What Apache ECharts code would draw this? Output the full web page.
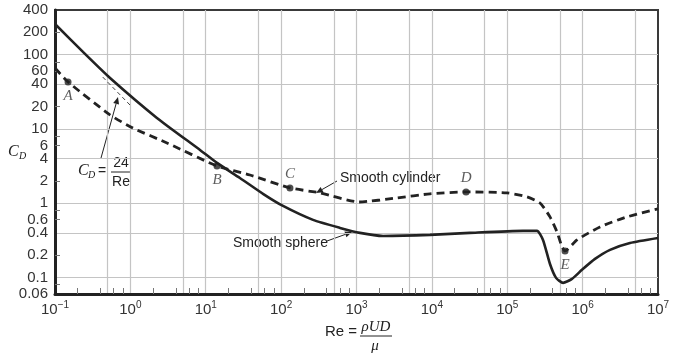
<!DOCTYPE html>
<html><head><meta charset="utf-8">
<script src="https://cdn.jsdelivr.net/npm/echarts@6/dist/echarts.min.js"></script>
<style>html,body{margin:0;padding:0;background:#fff}#c{width:677px;height:356px}</style>
</head><body><div id="c"></div>
<script>
// ---- data ----
const sphereRe = [0.1, 0.235, 0.537, 2.25, 8.4, 14.1, 28.4, 57.5, 106, 265, 604, 1112, 2250, 9440, 32000, 162000, 248000, 298000, 369000, 444000, 550000, 723000, 980000, 1.46e6, 2.31e6, 4.25e6, 1e7];
const sphereCd = [259, 109, 48.6, 14.1, 5.22, 3.49, 2.19, 1.34, 0.92, 0.597, 0.466, 0.399, 0.363, 0.375, 0.399, 0.425, 0.425, 0.321, 0.152, 0.0989, 0.0847, 0.096, 0.127, 0.178, 0.236, 0.292, 0.341];
const cylRe = [0.1, 0.149, 0.537, 1.08, 3.06, 14.1, 38.6, 131, 328, 1080, 3440, 9440, 28400, 99300, 183000, 272000, 369000, 457000, 533000, 584000, 842000, 1.7e6, 3.88e6, 1e7];
const cylCd = [66.2, 43.0, 15.5, 10.3, 6.49, 3.18, 2.40, 1.61, 1.38, 1.04, 1.18, 1.34, 1.42, 1.38, 1.22, 1.01, 0.655, 0.411, 0.258, 0.228, 0.321, 0.48, 0.655, 0.84];
const stokesRe = [0.43, 0.99];
const stokesCd = [50, 21];
const pointNames = ['A', 'B', 'C', 'D', 'E'];
const pointRe = [0.149, 14.1, 131, 28400, 584000];
const pointCd = [43.0, 3.18, 1.61, 1.42, 0.228];
const pointLabelPos = ['bottom', 'bottom', 'top', 'top', 'bottom'];
const xLabelVals = [0.1, 1, 10, 100, 1e3, 1e4, 1e5, 1e6, 1e7];
const xGridVals = [0.5, 1, 5, 10, 50, 100, 500, 1e3, 5e3, 1e4, 5e4, 1e5, 5e5, 1e6, 5e6];
const xMinorVals = [0.2, 0.4, 0.6, 0.8, 2, 4, 6, 8, 20, 40, 60, 80, 200, 400, 600, 800, 2000, 4000, 6000, 8000, 2e4, 4e4, 6e4, 8e4, 2e5, 4e5, 6e5, 8e5, 2e6, 4e6, 6e6, 8e6];
const yLabelVals = [0.06, 0.1, 0.2, 0.4, 0.6, 1, 2, 4, 6, 10, 20, 40, 60, 100, 200, 400];
const yGridVals = [0.1, 0.4, 1, 4, 10, 40, 100];
const yMinorVals = [0.08, 0.2, 0.6, 0.8, 2, 6, 8, 20, 60, 80, 200];

const sans = "'Liberation Sans', Arial, sans-serif";
const serif = "'Liberation Serif', 'Times New Roman', serif";
const ink = '#222';

const zip = (a, b) => a.map((v, i) => [v, b[i]]);
const sup = n => (n < 0 ? '\u2212' + (-n) : '' + n);

function arrow(x1, y1, x2, y2) {
  const ang = Math.atan2(y2 - y1, x2 - x1), L = 7, W = 3;
  const bx = x2 - L * Math.cos(ang), by = y2 - L * Math.sin(ang);
  const px = -Math.sin(ang) * W, py = Math.cos(ang) * W;
  return [
    { type: 'line', shape: { x1, y1, x2: bx, y2: by }, style: { stroke: ink, lineWidth: 1 } },
    { type: 'polygon', shape: { points: [[x2, y2], [bx + px, by + py], [bx - px, by - py]] }, style: { fill: ink } }
  ];
}
function txt(x, y, text, font, align) {
  return { type: 'text', x, y, style: { text, font, fill: ink, align: align || 'left', verticalAlign: 'middle' } };
}

const graphics = [].concat(
  arrow(101, 158, 118, 97),
  arrow(337, 181, 316, 193),
  arrow(327, 241, 352, 232),
  [
    txt(340, 178, 'Smooth cylinder', '14px ' + sans),
    txt(233, 243, 'Smooth sphere', '14px ' + sans),
    txt(78, 171, 'C', 'italic 16px ' + serif),
    txt(88, 175, 'D', 'italic 10px ' + serif),
    txt(98, 171, '=', '14px ' + sans),
    txt(121, 163, '24', '14px ' + sans, 'center'),
    { type: 'line', shape: { x1: 111, y1: 172, x2: 131, y2: 172 }, style: { stroke: ink, lineWidth: 1 } },
    txt(121, 182, 'Re', '14px ' + sans, 'center'),
    txt(8, 152, 'C', 'italic 16px ' + serif),
    txt(19, 156, 'D', 'italic 10px ' + serif),
    txt(325, 332, 'Re =', '15px ' + sans),
    txt(376, 327, '\u03C1UD', 'italic 15px ' + serif, 'center'),
    { type: 'line', shape: { x1: 360, y1: 336, x2: 392, y2: 336 }, style: { stroke: ink, lineWidth: 1 } },
    txt(375, 346, '\u03BC', 'italic 15px ' + serif, 'center')
  ]
);

const chart = echarts.init(document.getElementById('c'));
chart.setOption({
  animation: false,
  backgroundColor: '#fff',
  grid: { left: 55, right: 19, top: 10, bottom: 62, show: true, borderColor: '#3a3a3a', borderWidth: 2, backgroundColor: 'transparent' },
  xAxis: [
    {
      type: 'log', logBase: 10, min: 0.1, max: 1e7, position: 'bottom',
      axisLine: { show: true, onZero: false, lineStyle: { color: ink, width: 3 } },
      axisTick: { show: false, customValues: xGridVals },
      splitLine: { show: true, lineStyle: { color: '#c4c4c4', width: 1.2 } },
      axisLabel: {
        customValues: xLabelVals, margin: 6, color: '#333',
        formatter: v => '{b|10}{s|' + sup(Math.round(Math.log10(v))) + '}',
        rich: {
          b: { fontSize: 15, fontFamily: sans, color: '#333', lineHeight: 20 },
          s: { fontSize: 10, fontFamily: sans, color: '#333', lineHeight: 11, verticalAlign: 'top' }
        }
      }
    },
    {
      type: 'log', logBase: 10, min: 0.1, max: 1e7, position: 'bottom',
      axisLine: { show: false },
      axisTick: { show: true, inside: true, length: 6, customValues: xMinorVals, lineStyle: { color: '#777', width: 1 } },
      splitLine: { show: false },
      axisLabel: { show: false }
    }
  ],
  yAxis: [
    {
      type: 'log', logBase: 10, min: 0.06, max: 400, position: 'left',
      axisLine: { show: true, onZero: false, lineStyle: { color: ink, width: 3 } },
      axisTick: { show: false, customValues: yGridVals },
      splitLine: { show: true, lineStyle: { color: '#c4c4c4', width: 1.2 } },
      axisLabel: {
        customValues: yLabelVals, margin: 7, color: '#333', fontSize: 15, fontFamily: sans,
        formatter: v => String(Number(v.toPrecision(4)))
      }
    },
    {
      type: 'log', logBase: 10, min: 0.06, max: 400, position: 'left',
      axisLine: { show: false },
      axisTick: { show: true, inside: true, length: 5, customValues: yMinorVals, lineStyle: { color: '#777', width: 1 } },
      splitLine: { show: false },
      axisLabel: { show: false }
    }
  ],
  series: [
    {
      name: 'Smooth sphere', type: 'line', data: zip(sphereRe, sphereCd), symbol: 'none', smooth: 0.2,
      lineStyle: { color: ink, width: 2.6 }, z: 3
    },
    {
      name: 'Smooth cylinder', type: 'line', data: zip(cylRe, cylCd), symbol: 'none', smooth: 0.2,
      lineStyle: { color: ink, width: 2.8, type: [8, 5] }, z: 3
    },
    {
      name: 'CD = 24/Re', type: 'line', data: zip(stokesRe, stokesCd), symbol: 'none',
      lineStyle: { color: '#444', width: 1, type: [4, 3] }, z: 3
    },
    {
      name: 'points', type: 'scatter', symbolSize: 7, itemStyle: { color: ink }, z: 4,
      data: pointNames.map((n, i) => ({
        name: n, value: [pointRe[i], pointCd[i]],
        label: { show: true, position: pointLabelPos[i], distance: 3, formatter: n, fontFamily: serif, fontStyle: 'italic', fontSize: 15, color: '#333' }
      }))
    }
  ],
  graphic: graphics
});
</script></body></html>
